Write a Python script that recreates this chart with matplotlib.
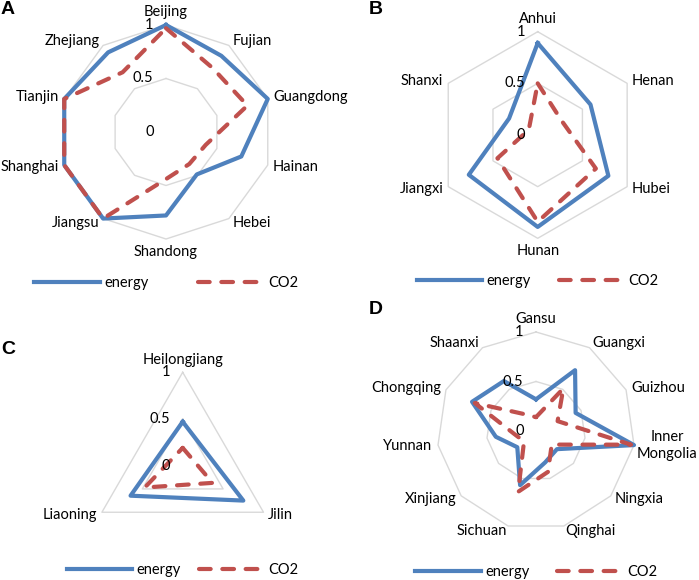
import matplotlib
matplotlib.use('Agg')
import matplotlib.pyplot as plt
from matplotlib.lines import Line2D
import numpy as np

plt.rcParams['font.family'] = ['Lato', 'DejaVu Sans']

W, H = 699, 580
BLUE = '#4f81bd'
RED = '#c0504d'
GRID = '#d9d9d9'
FS = 10.5
DASH = (2.8, 2.8)

# panel A - eastern provinces
cats_a = ['Beijing', 'Fujian', 'Guangdong', 'Hainan', 'Hebei', 'Shandong',
          'Jiangsu', 'Shanghai', 'Tianjin', 'Zhejiang']
energy_a = [1.0, 0.88, 1.0, 0.74, 0.49, 0.78, 1.0, 1.0, 1.0, 0.92]
co2_a = [0.97, 0.74, 0.80, 0.39, 0.37, 0.44, 1.0, 1.0, 1.0, 0.69]

# panel B - central provinces
cats_b = ['Anhui', 'Henan', 'Hubei', 'Hunan', 'Jiangxi', 'Shanxi']
energy_b = [0.89, 0.59, 0.79, 0.89, 0.77, 0.32]
co2_b = [0.50, 0.27, 0.65, 0.84, 0.45, 0.10]

# panel C - north-east
cats_c = ['Heilongjiang', 'Jilin', 'Liaoning']
energy_c = [0.47, 0.75, 0.645]
co2_c = [0.19, 0.37, 0.47]

# panel D - western provinces
cats_d = ['Gansu', 'Guangxi', 'Guizhou', 'Inner\nMongolia', 'Ningxia', 'Qinghai',
          'Sichuan', 'Xinjiang', 'Yunnan', 'Chongqing', 'Shaanxi']
energy_d = [0.32, 0.73, 0.44, 1.0, 0.28, 0.33, 0.57, 0.25, 0.41, 0.71, 0.60]
co2_d = [0.14, 0.51, 0.24, 0.97, 0.21, 0.43, 0.64, 0.16, 0.22, 0.68, 0.20]

rticks = [0, 0.5, 1]
rtick_labels = ['0', '0.5', '1']

fig = plt.figure(figsize=(W / 100, H / 100), dpi=100)


def radar(cx, cy, r, cats, energy, co2, letter, lxy, legend_y, colspace):
    ax = fig.add_axes([(cx - r) / W, (H - cy - r) / H, 2 * r / W, 2 * r / H],
                      projection='polar')
    ax.set_theta_offset(np.pi / 2)
    ax.set_theta_direction(-1)
    ax.set_ylim(0, 1)
    ax.axis('off')

    n = len(cats)
    theta = np.linspace(0, 2 * np.pi, n, endpoint=False)
    closed = np.append(theta, theta[0])

    for lev in rticks[1:]:
        ax.plot(closed, [lev] * (n + 1), color=GRID, lw=1.0, zorder=1, clip_on=False)

    ax.plot(closed, np.append(energy, energy[0]), color=BLUE, lw=3,
            solid_joinstyle='round', zorder=3, clip_on=False)
    ax.plot(closed, np.append(co2, co2[0]), color=RED, lw=3, dashes=DASH,
            dash_capstyle='round', zorder=4, clip_on=False)

    # category labels just outside the outer ring
    for t, name in zip(theta, cats):
        dx, dy = np.sin(t), np.cos(t)
        pad = 2 if '\n' in name else 4
        if abs(dx) < 0.1:
            ha = 'center'
            va = 'bottom' if dy > 0 else 'top'
        else:
            ha = 'left' if dx > 0 else 'right'
            va = 'center'
        ax.annotate(name, xy=(t, 1), xytext=(dx * pad, dy * pad), textcoords='offset points',
                    ha=ha, va=va, fontsize=FS, multialignment='center', zorder=6)

    for v, s in zip(rticks, rtick_labels):
        ax.annotate(s, xy=(0, v), xytext=(-9, 0), textcoords='offset points',
                    ha='right', va='center', fontsize=FS, zorder=6)

    fig.text(lxy[0] / W, 1 - lxy[1] / H, letter, fontsize=14, fontweight='bold',
             family='Liberation Sans', ha='left', va='top')

    handles = [Line2D([], [], color=BLUE, lw=3),
               Line2D([], [], color=RED, lw=3, dashes=DASH, dash_capstyle='round')]
    fig.legend(handles, ['energy', 'CO2'], loc='center', ncol=2, frameon=False,
               bbox_to_anchor=(cx / W, 1 - legend_y / H), fontsize=FS,
               handlelength=4.5, handletextpad=0.3, columnspacing=colspace)


radar(166, 132, 107, cats_a, energy_a, co2_a, 'A', (1, 1), 283, 3.4)
radar(537.7, 135, 103.3, cats_b, energy_b, co2_b, 'B', (369, 1), 281, 1.9)
radar(182.7, 465.6, 93.3, cats_c, energy_c, co2_c, 'C', (1, 341), 570, 1.2)
radar(536, 431, 99, cats_d, energy_d, co2_d, 'D', (369, 301), 572, 1.9)

fig.savefig('out.png', dpi=100)
